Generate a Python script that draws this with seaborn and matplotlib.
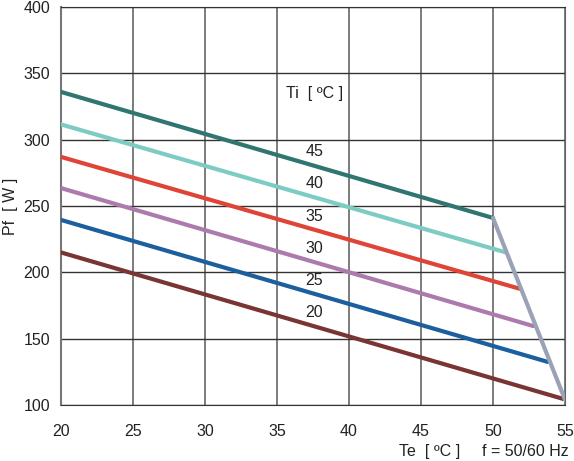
import pandas as pd
import matplotlib
matplotlib.use("Agg")
import matplotlib.pyplot as plt
import seaborn as sns

# Ti curves: start at Te=20, end on the grey limit line
ti_levels = ["20", "25", "30", "35", "40", "45"]
te_start = [20, 20, 20, 20, 20, 20]
te_end = [54.9, 53.8, 52.8, 51.9, 50.9, 50.0]
pf_start = [215, 239.5, 263.5, 287, 311.5, 336]
pf_end = [104.5, 132.5, 159.5, 187.5, 215, 241]
colors = ["#7a3434", "#1c5f9f", "#ad7aad", "#df4536", "#7dccc4", "#2f7670"]

# grey limit line
limit_te = [50.0, 55.0]
limit_pf = [241, 104]

label_y = [170, 194, 218, 242, 267, 291]

rows = []
for ti, x0, x1, y0, y1 in zip(ti_levels, te_start, te_end, pf_start, pf_end):
    rows.append({"Ti": ti, "Te": x0, "Pf": y0})
    rows.append({"Ti": ti, "Te": x1, "Pf": y1})
data = pd.DataFrame(rows)
limit = pd.DataFrame({"Te": limit_te, "Pf": limit_pf})

sns.set_style("white")
plt.rcParams["font.family"] = ["Liberation Sans", "DejaVu Sans"]

fig = plt.figure(figsize=(5.74, 4.61), dpi=100)
ax = fig.add_axes([0.1063, 0.1215, 0.878, 0.8633])

sns.lineplot(data=data, x="Te", y="Pf", hue="Ti", palette=dict(zip(ti_levels, colors)),
             linewidth=3, legend=False, ax=ax, zorder=3)
sns.lineplot(data=limit, x="Te", y="Pf", color="#99a2b6", linewidth=3, ax=ax, zorder=4)

ax.set_xlim(20, 55)
ax.set_ylim(100, 400)
ax.set_xticks(range(20, 56, 5))
ax.set_yticks(range(100, 401, 50))
ax.grid(True, axis="y", color="#333333", linewidth=1)
ax.grid(True, axis="x", color="#666666", linewidth=1.2)
ax.spines["left"].set_color("#777777")
ax.spines["left"].set_linewidth(1.5)
ax.spines["right"].set_color("#666666")
ax.spines["bottom"].set_color("#333333")
ax.spines["top"].set_color("#333333")
ax.tick_params(axis="x", length=7, width=1.2, color="#777777", labelsize=11.5, labelcolor="#222222", pad=7)
ax.tick_params(axis="y", length=4, width=1, color="#444444", labelsize=11.5, labelcolor="#222222", pad=4)

ax.set_xlabel("")
ax.set_ylabel("Pf  [ W ]", fontsize=11.5, color="#222222", labelpad=4)

ax.text(37.6, 335, "Ti  [ ºC ]", fontsize=11.5, ha="center", va="center", color="#222222")
for lab, y in zip(ti_levels, label_y):
    ax.text(37.6, y, lab, fontsize=11.5, ha="center", va="center", color="#222222")

fig.text(430 / 574, 1 - 451 / 461, "Te  [ ºC ]", fontsize=11.5, ha="center", va="center", color="#222222")
fig.text(525 / 574, 1 - 451 / 461, "f = 50/60 Hz", fontsize=11.5, ha="center", va="center", color="#222222")

fig.savefig("out.png", dpi=100)
